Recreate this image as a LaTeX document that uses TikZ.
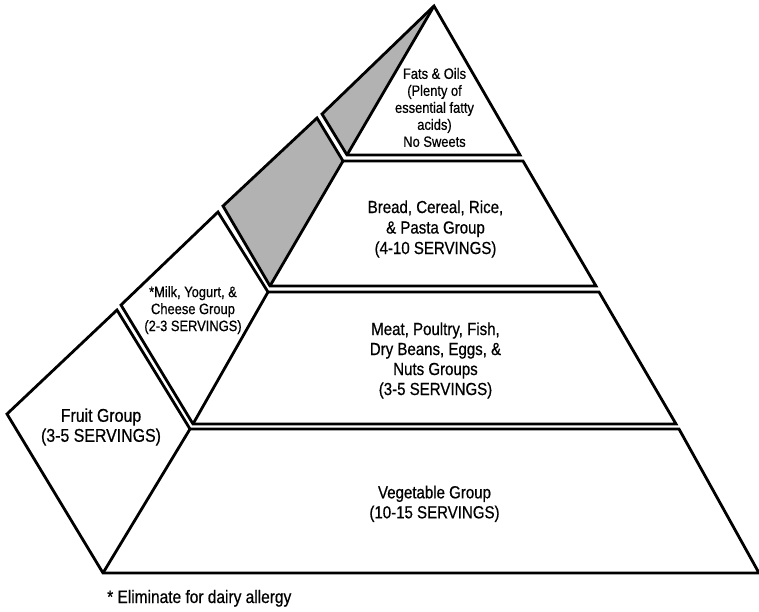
\documentclass[tikz,border=0pt]{standalone}
\usepackage{fontspec}
\setmainfont{Liberation Sans}[FakeStretch=0.86,FakeBold=0.6]
\begin{document}
\begin{tikzpicture}[x=1pt,y=-1pt,
  edge/.style={draw=black, line width=2.8pt, line join=miter},
  shadefill/.style={fill=black!30},
  lbl/.style={inner sep=0pt, align=center, text=black},
  big/.style={lbl, font=\fontsize{17.5pt}{20pt}\selectfont},
  small/.style={lbl, font=\fontsize{15pt}{17pt}\selectfont}]
\useasboundingbox (0,0) rectangle (759,612);
% layer 1: fats & oils
\fill[shadefill] (434,6) -- (322,114) -- (347,155) -- cycle;
\draw[edge] (434,6) -- (322,114) -- (347,155) -- (520,155) -- cycle;
\draw[edge] (434,6) -- (347,155);
% layer 2: bread
\fill[shadefill] (317,118) -- (343,161) -- (270,286) -- (223,206) -- cycle;
\draw[edge] (317,118) -- (343,161) -- (523,161) -- (596,286) -- (270,286) -- (223,206) -- cycle;
\draw[edge] (343,161) -- (270,286);
% layer 3: meat + milk
\draw[edge] (218,212) -- (268,292) -- (599,292) -- (676,424) -- (193,424) -- (121,305) -- cycle;
\draw[edge] (268,292) -- (193,424);
% layer 4: vegetable + fruit
\draw[edge] (117,310) -- (190,429) -- (679,429) -- (759,573) -- (103,573) -- (7,414) -- cycle;
\draw[edge] (190,429) -- (103,573);
% labels
\node[small] (fats) at (434.5,107.5)
  {Fats \& Oils\\(Plenty of\\essential fatty\\acids)\\No Sweets};
\node[big, font=\fontsize{17.5pt}{20.5pt}\selectfont] (bread) at (435.5,229)
  {Bread, Cereal, Rice,\\\& Pasta Group\\(4-10 SERVINGS)};
\node[big] (meat) at (435.5,360.5)
  {Meat, Poultry, Fish,\\Dry Beans, Eggs, \&\\Nuts Groups\\(3-5 SERVINGS)};
\node[big] (veg) at (434.5,503.8)
  {Vegetable Group\\(10-15 SERVINGS)};
\node[lbl, font=\fontsize{18.5pt}{20pt}\selectfont] (fruit) at (101,427)
  {Fruit Group\\(3-5 SERVINGS)};
\node[small] (milk) at (193,310.2)
  {*Milk, Yogurt, \&\\Cheese Group\\(2-3 SERVINGS)};
\node[lbl, font=\fontsize{18pt}{20pt}\selectfont, anchor=base west] (note) at (107,603)
  {* Eliminate for dairy allergy};
\end{tikzpicture}
\end{document}
